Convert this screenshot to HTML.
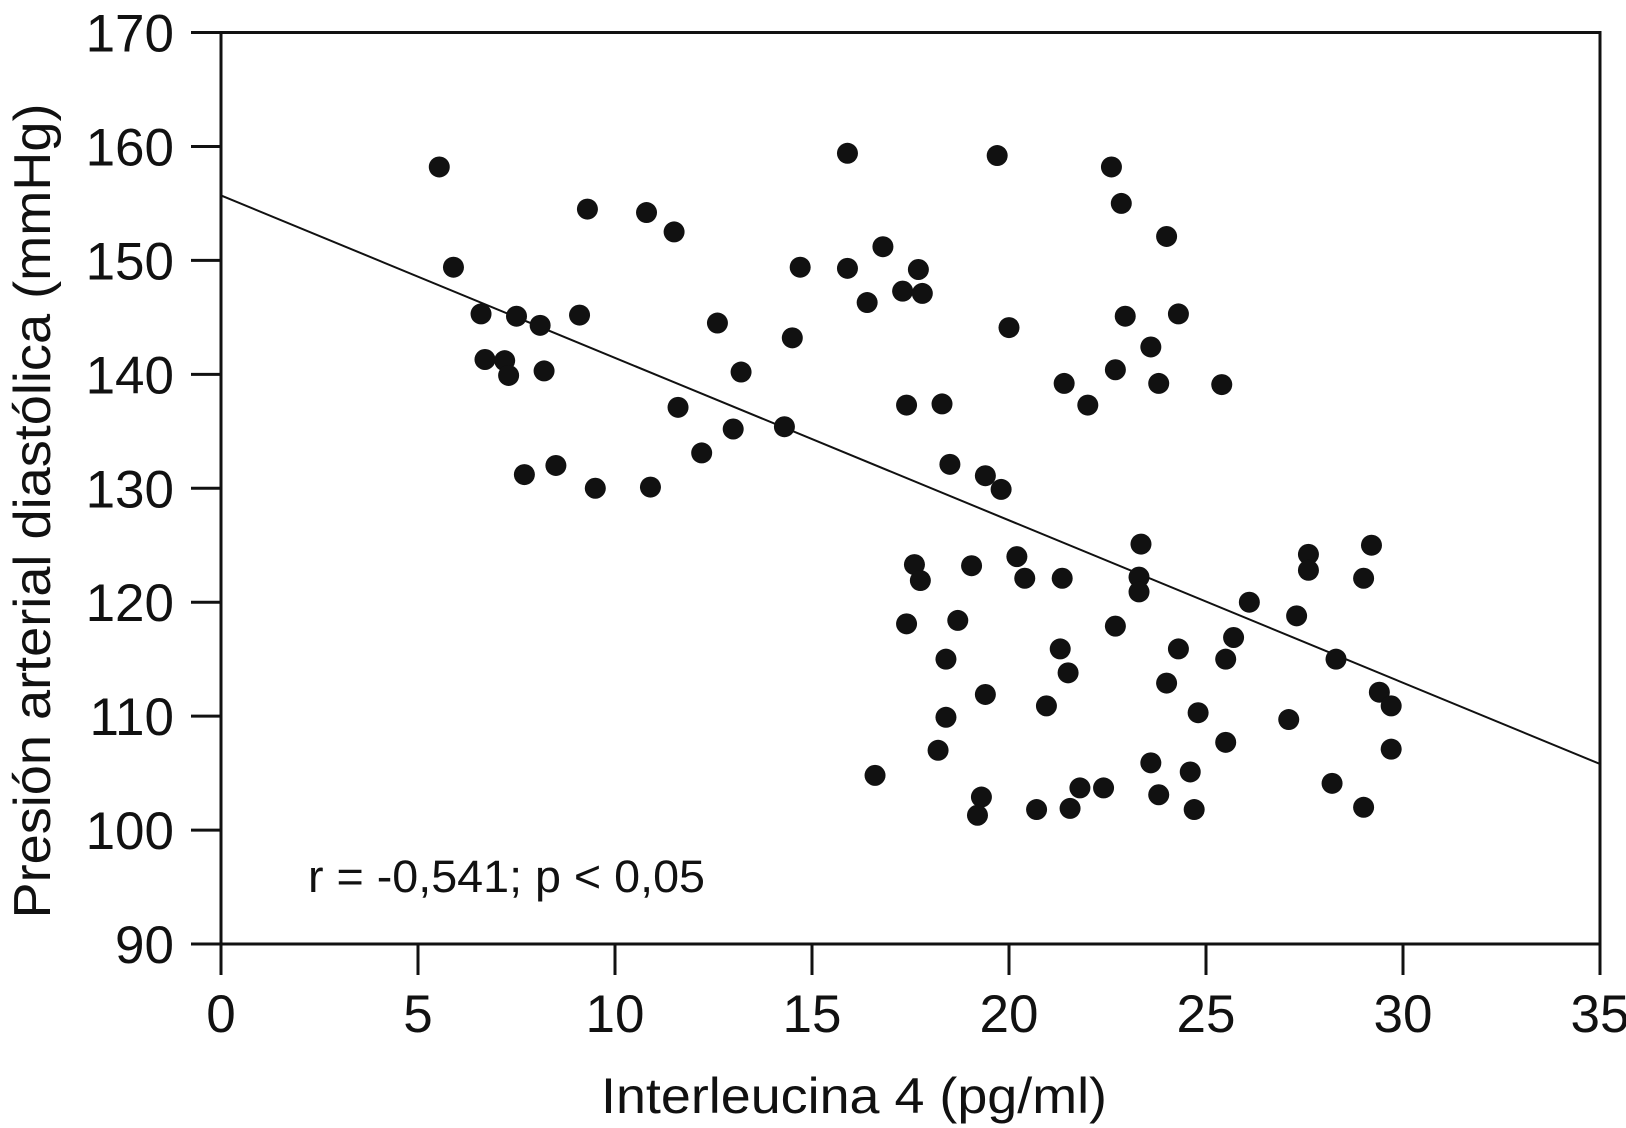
<!DOCTYPE html>
<html><head><meta charset="utf-8"><style>body{margin:0;background:#fff}svg{display:block}</style></head>
<body>
<svg id="chart" width="1626" height="1128" viewBox="0 0 1626 1128" xmlns="http://www.w3.org/2000/svg" font-family="Liberation Sans, Arial, sans-serif" fill="#111">
<g id="axes"></g>
<g id="pts"></g>
<text x="308" y="892" font-size="45" textLength="397" lengthAdjust="spacingAndGlyphs">r = -0,541; p &lt; 0,05</text>
<text x="854" y="1113" font-size="50" text-anchor="middle" textLength="506" lengthAdjust="spacingAndGlyphs">Interleucina 4 (pg/ml)</text>
<text transform="translate(50,511) rotate(-90)" font-size="52" text-anchor="middle" textLength="815" lengthAdjust="spacingAndGlyphs">Presión arterial diastólica (mmHg)</text>
</svg>
<script>
const xTicks=[0,5,10,15,20,25,30,35];
const yTicks=[90,100,110,120,130,140,150,160,170];
const xVals=[5.54,5.9,6.6,6.7,7.2,7.3,7.5,8.1,8.2,7.7,8.5,9.1,9.3,9.5,10.8,10.9,11.5,11.6,12.2,12.6,13.0,13.2,14.3,14.5,14.7,15.9,15.9,16.4,16.8,17.3,17.4,17.7,17.8,18.3,19.7,20.0,18.5,19.4,19.8,22.6,22.85,24.0,22.95,24.3,23.6,22.7,23.8,21.4,22.0,25.4,
17.6,17.75,17.4,18.7,19.05,18.4,18.4,18.2,19.4,19.3,19.2,16.6,20.2,20.4,21.35,21.3,21.5,20.95,20.7,21.55,21.8,22.4,22.7,23.35,23.3,23.3,24.0,24.3,23.6,23.8,24.6,24.8,24.7,25.5,25.7,25.5,26.1,27.3,27.1,27.6,27.6,28.3,28.2,29.0,29.2,29.0,29.4,29.7,29.7];
const yVals=[158.2,149.4,145.3,141.3,141.2,139.9,145.1,144.3,140.3,131.2,132.0,145.2,154.5,130.0,154.2,130.1,152.5,137.1,133.1,144.5,135.2,140.2,135.4,143.2,149.4,159.4,149.3,146.3,151.2,147.3,137.3,149.2,147.1,137.4,159.2,144.1,132.1,131.1,129.9,158.2,155.0,152.1,145.1,145.3,142.4,140.4,139.2,139.2,137.3,139.1,
123.3,121.9,118.1,118.4,123.2,115.0,109.9,107.0,111.9,102.9,101.3,104.8,124.0,122.1,122.1,115.9,113.8,110.9,101.8,101.9,103.7,103.7,117.9,125.1,122.2,120.9,112.9,115.9,105.9,103.1,105.1,110.3,101.8,115.0,116.9,107.7,120.0,118.8,109.7,124.2,122.8,115.0,104.1,122.1,125.0,102.0,112.1,110.9,107.1];
const fitX=[0,35];
const fitY=[155.7,105.8];
const NS='http://www.w3.org/2000/svg';
const X0=221,X1=1600,Y0=944,Y1=32.5;
const sx=v=>X0+(v-0)/(35-0)*(X1-X0);
const sy=v=>Y0-(v-90)/(170-90)*(Y0-Y1);
function mk(t,a,p){const e=document.createElementNS(NS,t);for(const k in a)e.setAttribute(k,a[k]);p.appendChild(e);return e;}
const ax=document.getElementById('axes'),pts=document.getElementById('pts');
const frame=mk('rect',{x:X0,y:Y1,width:X1-X0,height:Y0-Y1,fill:'none',stroke:'#111','stroke-width':3},ax);


xTicks.forEach(v=>{
 const l=mk('line',{x1:sx(v),x2:sx(v),y1:Y0,y2:975,stroke:'#111','stroke-width':3},ax);
 
 
 const t=mk('text',{x:sx(v),y:1032,'font-size':53,'text-anchor':'middle'},ax);t.textContent=v;
 
 
});
yTicks.forEach(v=>{
 const l=mk('line',{x1:191,x2:X0,y1:sy(v),y2:sy(v),stroke:'#111','stroke-width':3},ax);
 
 
 const t=mk('text',{x:174,y:sy(v)+19,'font-size':53,'text-anchor':'end'},ax);t.textContent=v;
 
 
});
const fl=mk('line',{x1:sx(fitX[0]),y1:sy(fitY[0]),x2:sx(fitX[1]),y2:sy(fitY[1]),stroke:'#111','stroke-width':2},ax);


xVals.forEach((v,i)=>{
 const c=mk('circle',{cx:sx(v),cy:sy(yVals[i]),r:10.5,fill:'#111'},pts);
 
 
});
</script>
</body></html>
